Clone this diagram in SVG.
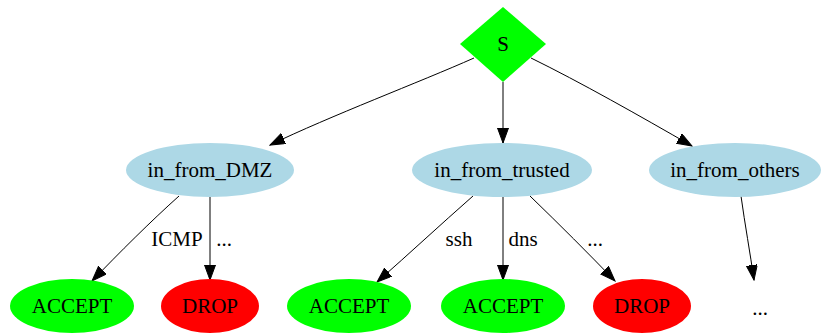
<svg xmlns="http://www.w3.org/2000/svg" width="821" height="334" viewBox="0 0 821 334">
  <style>
    text { font-family: "Liberation Serif", "Times New Roman", serif; font-size: 21px; fill: #000; text-anchor: middle; }
    .chain { fill: #add8e6; }
    .accept { fill: #00ff00; }
    .drop { fill: #ff0000; }
    .edge { fill: none; stroke: #000; stroke-width: 1; marker-end: url(#arrow); }
  </style>
  <defs>
    <marker id="arrow" markerUnits="userSpaceOnUse" markerWidth="16" markerHeight="12" refX="15" refY="5.5" orient="auto">
      <path d="M0,0 L15,5.5 L0,11 z" fill="#000" stroke="#000" stroke-width="1"/>
    </marker>
  </defs>
  <rect width="821" height="334" fill="#fff"/>

  <g id="connectors">
    <path class="edge" d="M474,58 C420,82 330,116 270,145"/>
    <path class="edge" d="M503,82 L503,143"/>
    <path class="edge" d="M531,58 C580,82 640,116 692,146"/>
    <path class="edge" d="M179,196 C150,222 120,252 92,281"/>
    <path class="edge" d="M210,197 L210,280"/>
    <path class="edge" d="M473,196 C440,225 410,253 377,282"/>
    <path class="edge" d="M503,197 L503,280"/>
    <path class="edge" d="M530,196 C560,225 588,253 615,281"/>
    <path class="edge" d="M741,196 C745,225 750,252 754,280"/>
    <text x="177" y="246">ICMP</text>
    <text x="224" y="246">...</text>
    <text x="459" y="246">ssh</text>
    <text x="523" y="246">dns</text>
    <text x="595" y="246">...</text>
  </g>

  <g id="S">
    <polygon points="503,7 546,44 503,82 460,44" class="accept"/>
    <text x="503" y="51">S</text>
  </g>
  <g id="in_from_DMZ">
    <ellipse cx="210" cy="170" rx="84" ry="27" class="chain"/>
    <text x="210" y="177">in_from_DMZ</text>
  </g>
  <g id="in_from_trusted">
    <ellipse cx="502" cy="170" rx="90" ry="27" class="chain"/>
    <text x="502" y="177">in_from_trusted</text>
  </g>
  <g id="in_from_others">
    <ellipse cx="735" cy="170" rx="86" ry="27" class="chain"/>
    <text x="735" y="177">in_from_others</text>
  </g>
  <g id="accept_icmp">
    <ellipse cx="72" cy="306" rx="62" ry="27" class="accept"/>
    <text x="72" y="313">ACCEPT</text>
  </g>
  <g id="drop_dmz">
    <ellipse cx="210" cy="306" rx="49" ry="27" class="drop"/>
    <text x="210" y="313">DROP</text>
  </g>
  <g id="accept_ssh">
    <ellipse cx="349" cy="306" rx="62" ry="27" class="accept"/>
    <text x="349" y="313">ACCEPT</text>
  </g>
  <g id="accept_dns">
    <ellipse cx="503" cy="306" rx="62" ry="27" class="accept"/>
    <text x="503" y="313">ACCEPT</text>
  </g>
  <g id="drop_trusted">
    <ellipse cx="642" cy="306" rx="49" ry="27" class="drop"/>
    <text x="642" y="313">DROP</text>
  </g>
  <g id="others_more">
    <text x="760" y="315">...</text>
  </g>
</svg>
